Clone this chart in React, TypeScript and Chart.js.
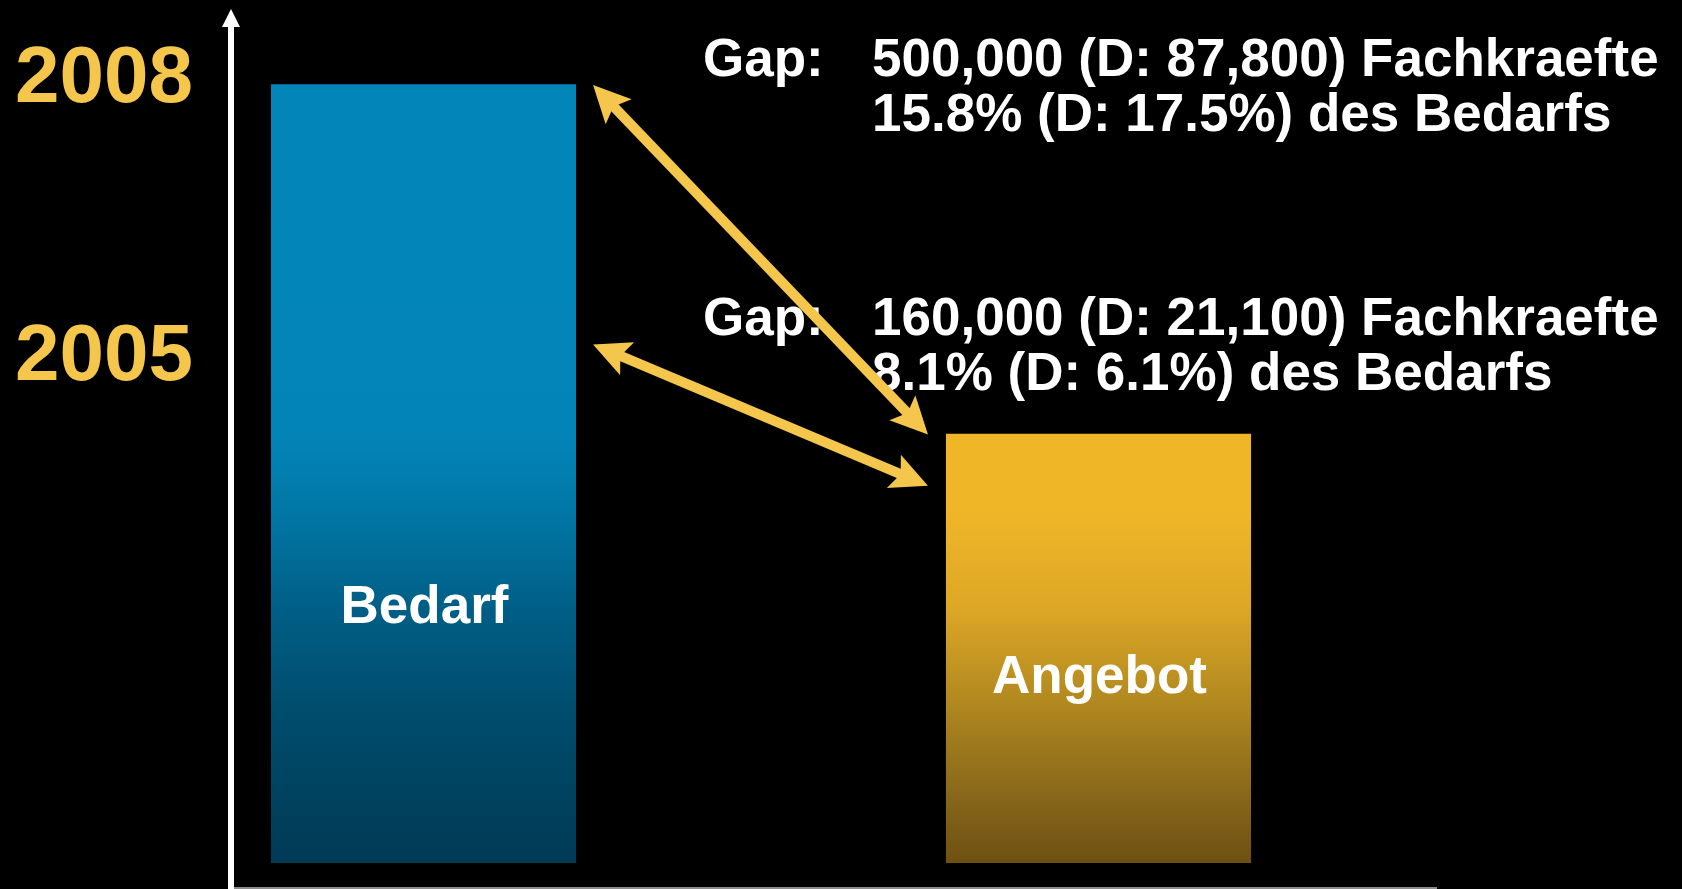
import React, { useEffect, useRef } from "react";
import { Chart, registerables } from "chart.js";

Chart.register(...registerables);

// ---- data ----
const categories = ["Bedarf", "Angebot"];
const values = [100.3, 55.3];
const yearLabels = ["2008", "2005"];
const yearLevels = [98.0, 62.2];
const barLabelLevels = [30.9, 21.9];
const arrowStartLevels = [100.2, 66.8];
const arrowEndLevels = [55.2, 48.6];
const gapHeads = ["Gap:", "Gap:"];
const gapFirstLines = ["500,000 (D: 87,800) Fachkraefte", "160,000 (D: 21,100) Fachkraefte"];
const gapSecondLines = ["15.8% (D: 17.5%) des Bedarfs", "8.1% (D: 6.1%) des Bedarfs"];

const FONT = "'Liberation Sans', Arial, sans-serif";
const YELLOW = "#F5C64C";

const blueStops: [number, string][] = [
  [0, "#0285B9"],
  [0.45, "#0284B8"],
  [0.55, "#0177A6"],
  [0.67, "#005F87"],
  [0.8, "#004D6E"],
  [1, "#003A55"],
];
const goldStops: [number, string][] = [
  [0, "#EFB627"],
  [0.18, "#EFB627"],
  [0.4, "#DEA826"],
  [0.63, "#B0881F"],
  [0.85, "#86661A"],
  [1, "#6E5012"],
];

function drawDoubleArrow(
  ctx: CanvasRenderingContext2D,
  x0: number,
  y0: number,
  x1: number,
  y1: number,
  color: string
) {
  const dx = x1 - x0;
  const dy = y1 - y0;
  const len = Math.hypot(dx, dy);
  const ux = dx / len;
  const uy = dy / len;
  const headLen = 37;
  const headHalf = 18;
  const shaft = 10;
  ctx.save();
  ctx.fillStyle = color;
  ctx.strokeStyle = color;
  ctx.lineWidth = shaft;
  ctx.lineCap = "butt";
  ctx.beginPath();
  ctx.moveTo(x0 + ux * headLen * 0.7, y0 + uy * headLen * 0.7);
  ctx.lineTo(x1 - ux * headLen * 0.7, y1 - uy * headLen * 0.7);
  ctx.stroke();
  const head = (tx: number, ty: number, dirx: number, diry: number) => {
    const bx = tx + dirx * headLen;
    const by = ty + diry * headLen;
    const pnx = -diry;
    const pny = dirx;
    ctx.beginPath();
    ctx.moveTo(tx, ty);
    ctx.lineTo(bx + pnx * headHalf, by + pny * headHalf);
    ctx.lineTo(tx + dirx * headLen * 0.8, ty + diry * headLen * 0.8);
    ctx.lineTo(bx - pnx * headHalf, by - pny * headHalf);
    ctx.closePath();
    ctx.fill();
  };
  head(x0, y0, ux, uy);
  head(x1, y1, -ux, -uy);
  ctx.restore();
}

const overlayPlugin = {
  id: "overlay",
  afterDatasetsDraw(chart: any) {
    const { ctx, chartArea } = chart;
    const yScale = chart.scales.y;
    const meta = chart.getDatasetMeta(0);
    const bars = meta.data as any[];
    ctx.save();

    // axes
    const axisX = chartArea.left + 145;
    ctx.strokeStyle = "#8C8C8C";
    ctx.lineWidth = 2;
    ctx.beginPath();
    ctx.moveTo(axisX + 2, 888);
    ctx.lineTo(chartArea.right + 1, 888);
    ctx.stroke();

    ctx.strokeStyle = "#FFFFFF";
    ctx.lineWidth = 6;
    ctx.beginPath();
    ctx.moveTo(axisX, 889);
    ctx.lineTo(axisX, 24);
    ctx.stroke();
    ctx.fillStyle = "#FFFFFF";
    ctx.beginPath();
    ctx.moveTo(axisX, chartArea.top);
    ctx.lineTo(axisX + 9, chartArea.top + 18);
    ctx.lineTo(axisX - 9, chartArea.top + 18);
    ctx.closePath();
    ctx.fill();

    // year labels
    ctx.fillStyle = YELLOW;
    ctx.font = `bold 80px ${FONT}`;
    ctx.textAlign = "right";
    ctx.textBaseline = "alphabetic";
    yearLabels.forEach((t, i) => {
      ctx.fillText(t, axisX - 38, yScale.getPixelForValue(yearLevels[i]));
    });

    // bar labels
    ctx.fillStyle = "#FFFFFF";
    ctx.font = `bold 53px ${FONT}`;
    ctx.textAlign = "center";
    bars.forEach((b, i) => {
      ctx.fillText(categories[i], b.x + 1, yScale.getPixelForValue(barLabelLevels[i]));
    });

    // gap text
    ctx.textAlign = "left";
    gapHeads.forEach((h, i) => {
      const base = yScale.getPixelForValue(arrowStartLevels[i]) - 9;
      ctx.fillText(h, 703, base);
      ctx.fillText(gapFirstLines[i], 872, base);
      ctx.fillText(gapSecondLines[i], 872, base + 55);
    });

    // arrows
    const b0 = bars[0];
    const b1 = bars[1];
    arrowStartLevels.forEach((lv, i) => {
      const x0 = b0.x + b0.width / 2 + 17;
      const y0 = yScale.getPixelForValue(lv);
      const x1 = b1.x - b1.width / 2 - 18;
      const y1 = yScale.getPixelForValue(arrowEndLevels[i]);
      drawDoubleArrow(ctx, x0, y0, x1, y1, YELLOW);
    });

    ctx.restore();
  },
};

export default function App() {
  const canvasRef = useRef<HTMLCanvasElement | null>(null);

  useEffect(() => {
    document.body.style.margin = "0";
    document.body.style.background = "#000";
    const canvas = canvasRef.current;
    if (!canvas) return;
    const stopsFor = [blueStops, goldStops];
    const chart = new Chart(canvas, {
      type: "bar",
      data: {
        labels: categories,
        datasets: [
          {
            data: values,
            backgroundColor: (c: any) => {
              const ch = c.chart;
              const i = c.dataIndex ?? 0;
              const stops = stopsFor[i] || blueStops;
              const ys = ch.scales && ch.scales.y;
              if (!ch.chartArea || !ys || typeof ys.getPixelForValue !== "function") {
                return stops[0][1];
              }
              const top = ys.getPixelForValue(values[i]);
              const bottom = ys.getPixelForValue(0);
              if (!isFinite(top) || !isFinite(bottom) || top === bottom) return stops[0][1];
              const g = ch.ctx.createLinearGradient(0, top, 0, bottom);
              stops.forEach(([o, col]) => g.addColorStop(o, col));
              return g;
            },
            borderWidth: 0,
            barPercentage: 1,
            categoryPercentage: 0.452,
          },
        ],
      },
      options: {
        responsive: false,
        maintainAspectRatio: false,
        animation: false,
        layout: { padding: { left: 86, right: 246, top: 9, bottom: 26 } },
        plugins: {
          legend: { display: false },
          tooltip: { enabled: false },
        },
        scales: {
          x: { display: false, offset: true, grid: { display: false } },
          y: { display: false, min: 0, max: 110, grid: { display: false } },
        },
      },
      plugins: [overlayPlugin],
    });
    return () => chart.destroy();
  }, []);

  return (
    <div
      style={{
        position: "absolute",
        left: 0,
        top: 0,
        width: 1682,
        height: 889,
        background: "#000",
        overflow: "hidden",
      }}
    >
      <canvas ref={canvasRef} width={1682} height={889} style={{ display: "block" }} />
    </div>
  );
}
